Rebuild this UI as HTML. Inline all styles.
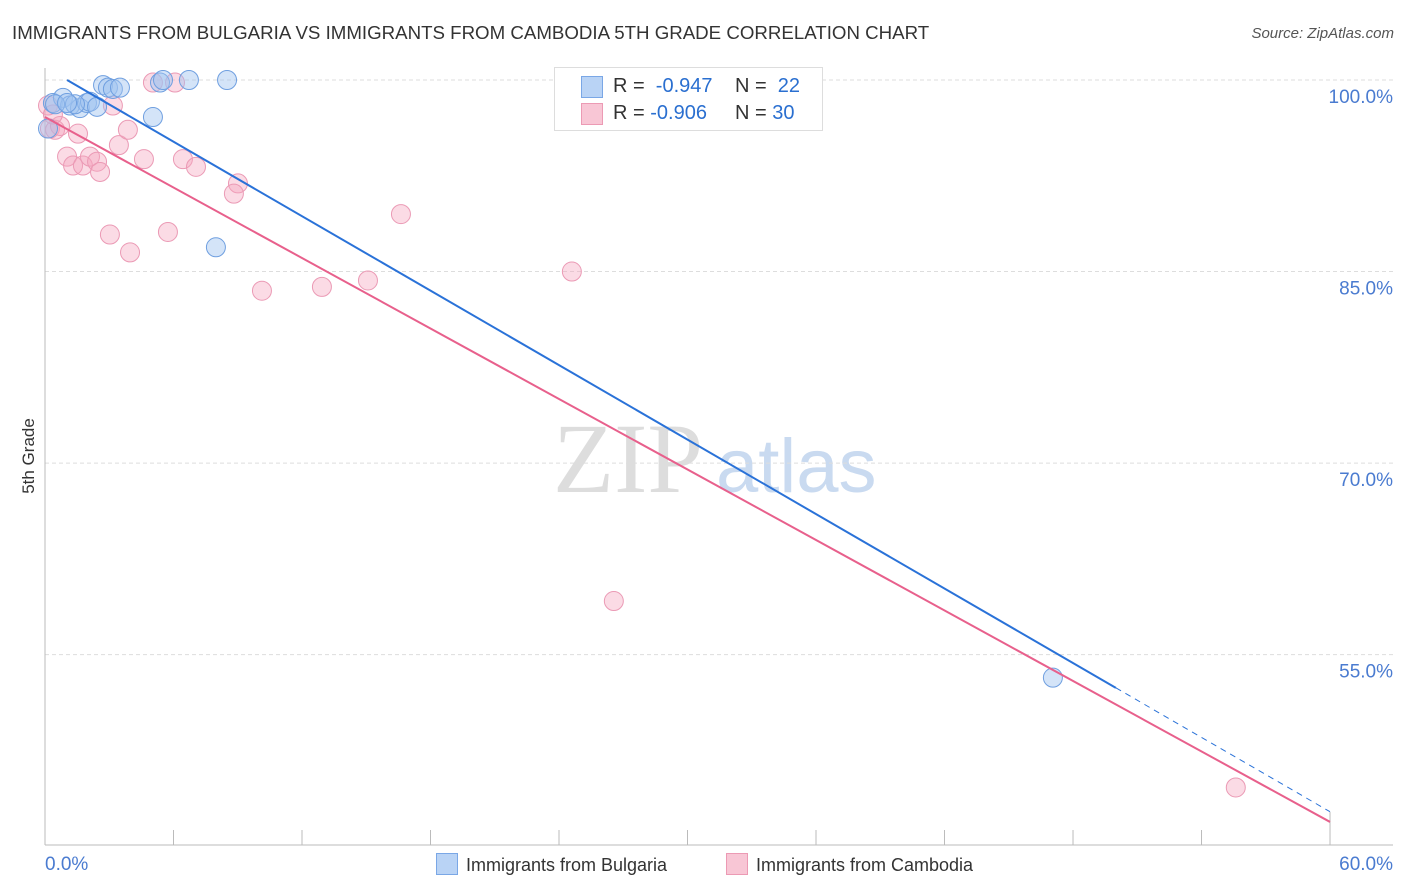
<!DOCTYPE html>
<html><head><meta charset="utf-8">
<style>
body{margin:0;background:#fff;font-family:"Liberation Sans",sans-serif;}
#wrap{position:relative;width:1406px;height:892px;overflow:hidden;}
.t{position:absolute;white-space:nowrap;}
</style></head>
<body>
<div id="wrap">
<div class="t" style="left:12px;top:22px;font-size:18.7px;color:#333">IMMIGRANTS FROM BULGARIA VS IMMIGRANTS FROM CAMBODIA 5TH GRADE CORRELATION CHART</div>
<div class="t" style="right:12px;top:25px;font-size:15px;color:#555;font-style:italic">Source: ZipAtlas.com</div>
<svg id="svg" width="1406" height="892" style="position:absolute;left:0;top:0"></svg>
</div>
<script>
const xTicks=[0,6,12,18,24,30,36,42,48,54,60];
const yGrid=[100,85,70,55];
const yLabels=["100.0%","85.0%","70.0%","55.0%"];
const bulgariaX=[0.37,0.84,1.17,1.63,1.96,2.1,2.43,2.71,2.94,3.17,3.5,5.04,5.37,5.51,6.72,8.5,7.98,47.06,0.14,0.47,1.4,1.03];
const bulgariaY=[98.2,98.6,98.0,97.8,98.2,98.3,97.9,99.6,99.4,99.3,99.4,97.1,99.8,100,100,100,86.9,53.2,96.2,98.1,98.1,98.2];
const cambodiaX=[0.23,0.47,0.7,0.14,0.37,1.03,1.31,1.77,2.1,2.43,2.57,1.54,3.17,3.45,3.87,4.62,6.44,7.05,9.01,8.82,5.04,6.07,3.03,3.97,5.74,10.13,12.93,15.08,16.62,24.6,26.56,55.6];
const cambodiaY=[96.2,96.1,96.4,98.0,97.3,94.0,93.3,93.3,94.0,93.6,92.8,95.8,98.0,94.9,96.1,93.8,93.8,93.2,91.9,91.1,99.8,99.8,87.9,86.5,88.1,83.5,83.8,84.3,89.5,85.0,59.2,44.6];
const bulgariaLine=[1.03,100,50.0,52.4,60,42.7];
const cambodiaLine=[0,97.1,60,41.9];

const NS="http://www.w3.org/2000/svg";
const svg=document.getElementById('svg');
const X=v=>45+v*21.417;
const Y=v=>80+(100-v)*12.77;
function mk(tag,attrs,parent){const e=document.createElementNS(NS,tag);for(const k in attrs)e.setAttribute(k,attrs[k]);(parent||svg).appendChild(e);return e;}

let wm=mk('text',{x:553,y:492,'font-size':100,'font-family':'Liberation Serif, serif',fill:'#ddd'});
wm.textContent='ZIP';


let wm2=mk('text',{x:716,y:492,'font-size':76,'font-family':'Liberation Sans, sans-serif',fill:'#c9daf0'});
wm2.textContent='atlas';



yGrid.forEach((g,i)=>{
  const l=mk('line',{x1:45,x2:1393,y1:Y(g),y2:Y(g),stroke:'#ddd','stroke-dasharray':'4,3'});
  
  
  const t=mk('text',{x:1393,y:Y(g)+23,'text-anchor':'end','font-size':19,fill:'#4a7bd0'});
  t.textContent=yLabels[i];
  
  
});
const ax=mk('line',{x1:45,x2:1393,y1:845,y2:845,stroke:'#bbb'});


const ay=mk('line',{x1:45,x2:45,y1:68,y2:845,stroke:'#bbb'});


xTicks.forEach((v,i)=>{
  if(i===0)return;
  const tk=mk('line',{x1:X(v),x2:X(v),y1:i===xTicks.length-1?812:830,y2:845,stroke:'#bbb'});
  
  
});
const xl0=mk('text',{x:45,y:870,'font-size':19,fill:'#4a7bd0'});xl0.textContent='0.0%';


const xl1=mk('text',{x:1393,y:870,'text-anchor':'end','font-size':19,fill:'#4a7bd0'});xl1.textContent='60.0%';


const yt=mk('text',{x:34,y:456,'font-size':17,fill:'#333','text-anchor':'middle',transform:'rotate(-90 34 456)'});yt.textContent='5th Grade';



cambodiaX.forEach((x,i)=>{
  const c=mk('circle',{cx:X(x),cy:Y(cambodiaY[i]),r:9.5,fill:'rgba(244,164,190,0.4)',stroke:'#eb9ab5','stroke-width':1});
  
  
});
bulgariaX.forEach((x,i)=>{
  const c=mk('circle',{cx:X(x),cy:Y(bulgariaY[i]),r:9.5,fill:'rgba(160,195,240,0.45)',stroke:'#6f9fe0','stroke-width':1});
  
  
});
const pl=mk('line',{x1:X(cambodiaLine[0]),y1:Y(cambodiaLine[1]),x2:X(cambodiaLine[2]),y2:Y(cambodiaLine[3]),stroke:'#e8608c','stroke-width':2});


const bl=mk('line',{x1:X(bulgariaLine[0]),y1:Y(bulgariaLine[1]),x2:X(bulgariaLine[2]),y2:Y(bulgariaLine[3]),stroke:'#2a72d8','stroke-width':2});


const bd=mk('line',{x1:X(bulgariaLine[2]),y1:Y(bulgariaLine[3]),x2:X(bulgariaLine[4]),y2:Y(bulgariaLine[5]),stroke:'#2a72d8','stroke-width':1,'stroke-dasharray':'6,5'});


</script>
<div class="t" style="left:554px;top:67px;width:267px;height:62px;border:1px solid #ddd;background:#fff;font-size:20px;color:#333">
  <div style="position:absolute;left:26px;top:8px;width:20px;height:20px;background:#b9d3f5;border:1px solid #7aa7e6"></div>
  <div style="position:absolute;left:58px;top:7px">R = <span style="color:#2a6fd0">&nbsp;-0.947</span></div>
  <div style="position:absolute;left:180px;top:7px">N = <span style="color:#2a6fd0">&nbsp;22</span></div>
  <div style="position:absolute;left:26px;top:35px;width:20px;height:20px;background:#f8c6d5;border:1px solid #ec9ab4"></div>
  <div style="position:absolute;left:58px;top:34px">R = <span style="color:#2a6fd0">-0.906</span></div>
  <div style="position:absolute;left:180px;top:34px">N = <span style="color:#2a6fd0">30</span></div>
</div>
<div class="t" style="left:436px;top:853px;font-size:18px;color:#333">
  <span style="display:inline-block;width:20px;height:20px;background:#b9d3f5;border:1px solid #7aa7e6;vertical-align:-4px;margin-right:8px"></span>Immigrants from Bulgaria</div>
<div class="t" style="left:726px;top:853px;font-size:18px;color:#333">
  <span style="display:inline-block;width:20px;height:20px;background:#f8c6d5;border:1px solid #ec9ab4;vertical-align:-4px;margin-right:8px"></span>Immigrants from Cambodia</div>
</body></html>
